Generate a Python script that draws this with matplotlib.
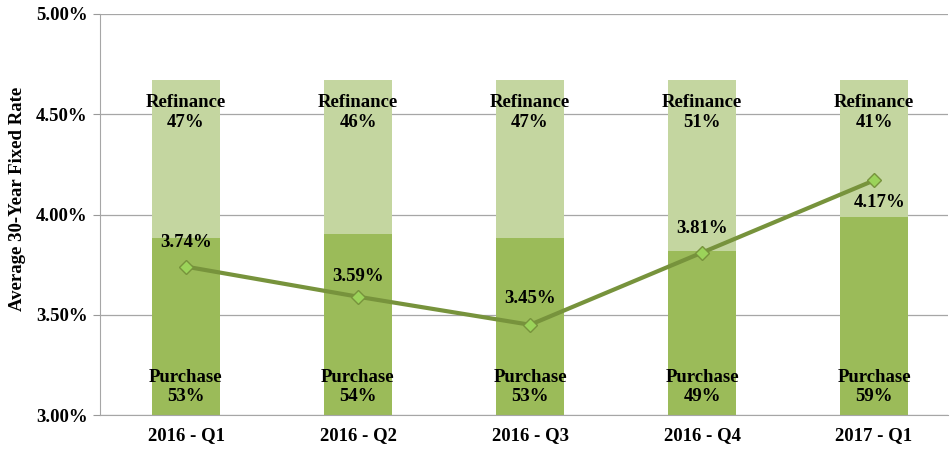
import matplotlib.pyplot as plt
from matplotlib.ticker import FuncFormatter

quarters = ["2016 - Q1", "2016 - Q2", "2016 - Q3", "2016 - Q4", "2017 - Q1"]
rate = [3.74, 3.59, 3.45, 3.81, 4.17]
purchase = [53, 54, 53, 49, 59]
refinance = [47, 46, 47, 51, 41]

base = 3.0
top = 4.67

plt.rcParams['font.family'] = ['Liberation Serif', 'DejaVu Serif']
plt.rcParams['font.weight'] = 'bold'

fig = plt.figure(figsize=(9.5, 4.53), dpi=100)
ax = fig.add_axes([100 / 950, 38 / 453, 848 / 950, 401 / 453])

x = range(len(quarters))
span = top - base
p_h = [p / 100 * span for p in purchase]
r_h = [r / 100 * span for r in refinance]

ax.bar(x, p_h, bottom=base, width=0.4, color='#9bbb59', zorder=2)
ax.bar(x, r_h, bottom=[base + h for h in p_h], width=0.4, color='#c4d6a0', zorder=2)

ax.plot(x, rate, color='#77933c', lw=3, marker='D', markersize=7,
        markerfacecolor='#9bd35a', markeredgecolor='#77933c', markeredgewidth=1, zorder=4)

fs = 13.5
for i in x:
    ax.text(i, 4.51, f"Refinance\n{refinance[i]}%", ha='center', va='center',
            fontsize=fs, fontweight='bold', linespacing=1.2, zorder=5)
    ax.text(i, 3.14, f"Purchase\n{purchase[i]}%", ha='center', va='center',
            fontsize=fs, fontweight='bold', linespacing=1.2, zorder=5)

offsets = [0.12, 0.10, 0.13, 0.12, -0.11]
for i in x:
    ax.text(i + (0.03 if i == 4 else 0), rate[i] + offsets[i], f"{rate[i]:.2f}%",
            ha='center', va='center', fontsize=fs, fontweight='bold', zorder=5)

ax.set_ylim(3.0, 5.0)
ax.set_xlim(-0.5, 4.43)
ax.set_yticks([3.0, 3.5, 4.0, 4.5, 5.0])
ax.yaxis.set_major_formatter(FuncFormatter(lambda v, _: f"{v:.2f}%"))
ax.set_xticks(list(x))
ax.set_xticklabels(quarters)
ax.tick_params(axis='y', labelsize=fs, length=5, color='#999999', pad=4)
ax.tick_params(axis='x', labelsize=fs, length=0, pad=9)
ax.grid(axis='y', color='#a6a6a6', lw=0.9, zorder=0)
ax.set_axisbelow(True)

for s in ['top', 'right']:
    ax.spines[s].set_visible(False)
for s in ['left', 'bottom']:
    ax.spines[s].set_color('#a6a6a6')

ax.set_ylabel("Average 30-Year Fixed Rate", fontsize=fs, fontweight='bold')
ax.yaxis.set_label_coords(-0.087, 0.54)

fig.savefig("out.png", dpi=100)
